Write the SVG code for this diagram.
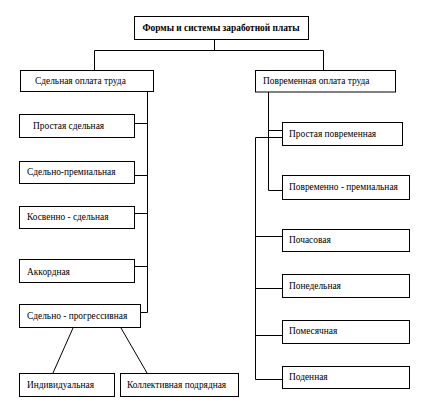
<svg xmlns="http://www.w3.org/2000/svg" width="424" height="412" viewBox="0 0 424 412">
<style>
.box{fill:#fff;stroke:#000;stroke-width:1}
.t{font-family:"Liberation Serif","Times New Roman",serif;font-size:9.4px;fill:#000}
.b{font-weight:bold;text-anchor:middle;font-size:9.4px}
.c{fill:none;stroke:#000;stroke-width:1}
</style>
<rect width="424" height="412" fill="#fff"/>
<g id="connectors">
<path class="c" d="M214.5,39 V50.5 M94.5,50.5 H323.5 M94.5,50.5 V70 M323.5,50.5 V70"/>
<path class="c" d="M147.5,91 V312.5 H140 M134,123.5 H147.5 M134,175.5 H147.5 M134,213.5 H147.5 M134,266.5 H147.5"/>
<path class="c" d="M73,328 L53,373 M121,328 L147,373"/>
<path class="c" d="M268.5,92 V190.5 H282 M268.5,130.5 H282"/>
<path class="c" d="M282,137.5 H255.5 V379.5 H282 M255.5,236.5 H282 M255.5,288.5 H282 M255.5,335.5 H282"/>
</g>
<g id="n-root"><rect class="box" x="134.5" y="16.5" width="174" height="23"/><text class="t b" x="221" y="31">Формы и системы заработной платы</text></g>
<g id="n-piece"><rect class="box" x="20.5" y="70.5" width="133" height="21"/><text class="t" x="35" y="84">Сдельная оплата труда</text></g>
<g id="n-time"><rect class="box" x="255.5" y="70.5" width="140" height="21.5"/><text class="t" x="263" y="84">Повременная оплата труда</text></g>
<g id="n-simple-piece"><rect class="box" x="19.5" y="114.5" width="115" height="23"/><text class="t" x="33" y="129">Простая сдельная</text></g>
<g id="n-piece-bonus"><rect class="box" x="19.5" y="161.5" width="115" height="22"/><text class="t" x="27" y="175">Сдельно-премиальная</text></g>
<g id="n-indirect"><rect class="box" x="19.5" y="206.5" width="115" height="22"/><text class="t" x="27" y="220">Косвенно - сдельная</text></g>
<g id="n-chord"><rect class="box" x="19.5" y="259.5" width="115" height="23"/><text class="t" x="27" y="275">Аккордная</text></g>
<g id="n-progressive"><rect class="box" x="19.5" y="304.5" width="121" height="23"/><text class="t" x="27" y="319">Сдельно - прогрессивная</text></g>
<g id="n-individual"><rect class="box" x="19.5" y="373.5" width="95" height="23"/><text class="t" x="27" y="388">Индивидуальная</text></g>
<g id="n-collective"><rect class="box" x="120.5" y="373.5" width="118" height="23"/><text class="t" x="127" y="388">Коллективная подрядная</text></g>
<g id="n-simple-time"><rect class="box" x="282.5" y="122.5" width="120" height="23"/><text class="t" x="289" y="137">Простая повременная</text></g>
<g id="n-time-bonus"><rect class="box" x="282.5" y="175.5" width="127" height="24"/><text class="t" x="289" y="190">Повременно - премиальная</text></g>
<g id="n-hourly"><rect class="box" x="282.5" y="229.5" width="127" height="22"/><text class="t" x="289" y="243">Почасовая</text></g>
<g id="n-weekly"><rect class="box" x="282.5" y="274.5" width="127" height="23"/><text class="t" x="289" y="289">Понедельная</text></g>
<g id="n-monthly"><rect class="box" x="282.5" y="320.5" width="127" height="23"/><text class="t" x="289" y="334">Помесячная</text></g>
<g id="n-daily"><rect class="box" x="282.5" y="366.5" width="127" height="22"/><text class="t" x="289" y="380">Поденная</text></g>
</svg>
